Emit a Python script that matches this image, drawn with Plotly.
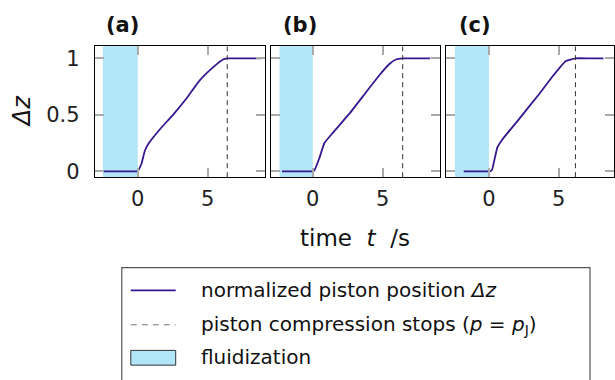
import plotly.graph_objects as go

# ---------------- data ----------------
panel_labels = ["(a)", "(b)", "(c)"]

t_a = [-2.45, -1.0, -0.1, 0.02, 0.26, 0.5, 0.74, 1.57, 2.52, 3.48, 4.43, 5.38, 6.1, 6.4, 7.5, 8.8]
z_a = [0.0, 0.0, 0.0, 0.005, 0.064, 0.18, 0.24, 0.37, 0.50, 0.645, 0.805, 0.92, 0.99, 1.0, 1.0, 1.0]

t_b = [-2.2, -1.0, 0.0, 0.12, 0.48, 0.83, 1.43, 2.62, 3.81, 4.76, 5.48, 5.95, 6.43, 7.5, 8.4]
z_b = [0.0, 0.0, 0.0, 0.01, 0.12, 0.25, 0.34, 0.51, 0.70, 0.85, 0.95, 0.99, 1.0, 1.0, 1.0]

t_c = [-1.8, -0.5, 0.1, 0.24, 0.6, 0.95, 2.14, 3.57, 4.52, 5.48, 6.19, 7.2, 8.2]
z_c = [0.0, 0.0, 0.0, 0.02, 0.21, 0.28, 0.46, 0.68, 0.835, 0.975, 1.0, 1.0, 1.0]

stop_times = [6.4, 6.43, 6.19]          # piston compression stops
fluid_start = [-2.5, -2.38, -2.43]       # fluidization interval start (ends at t=0)
fluid_end = [0.0, 0.0, 0.0]

x_ticks = [0, 5]
y_ticks = [0, 0.5, 1]
y_ticklabels = ["0", "0.5", "1"]

legend_labels = [
    "normalized piston position <i>Δz</i>",
    "piston compression stops (<i>p</i> = <i>p</i><sub>J</sub>)",
    "fluidization",
]

# ---------------- style ----------------
W, H = 615, 380
FONT = "DejaVu Sans"
CURVE = "#37178f"
FLUID = "#b3e5f8"
YR = [-0.052, 1.107]

def px(x):
    return x / W

def py(y):
    return 1 - y / H

domains = [(95, 265), (271, 441), (447, 615)]
xranges = [[-3.07, 9.07], [-3.02, 9.12], [-3.05, -3.05 + 168 / 14]]
series = [(t_a, z_a), (t_b, z_b), (t_c, z_c)]

fig = go.Figure()
shapes = []
annotations = []

for i, ((t, z), (d0, d1)) in enumerate(zip(series, domains)):
    xa = "x" if i == 0 else f"x{i+1}"
    ya = "y" if i == 0 else f"y{i+1}"
    fig.add_trace(go.Scatter(x=t, y=z, mode="lines", xaxis=xa, yaxis=ya,
                             line=dict(color=CURVE, width=1.8, shape="spline", smoothing=0.3),
                             showlegend=False, hoverinfo="skip"))
    fig.add_trace(go.Scatter(x=[stop_times[i], stop_times[i]], y=YR, mode="lines",
                             xaxis=xa, yaxis=ya,
                             line=dict(color="#333333", width=1, dash="5px,4px"),
                             showlegend=False, hoverinfo="skip"))
    shapes.append(dict(type="rect", xref=xa, yref=f"{ya} domain",
                       x0=fluid_start[i], x1=fluid_end[i], y0=0, y1=1,
                       fillcolor=FLUID, line=dict(width=0), layer="below"))
    axkey = "xaxis" if i == 0 else f"xaxis{i+1}"
    aykey = "yaxis" if i == 0 else f"yaxis{i+1}"
    fig.layout[axkey] = dict(domain=[px(d0), px(d1)], range=xranges[i], anchor=ya,
                             tickvals=x_ticks, ticks="inside", ticklen=9, tickwidth=1.5,
                             tickcolor="#aaaaaa", showline=True, linecolor="black",
                             linewidth=1, mirror="ticks", showgrid=False, zeroline=False,
                             tickfont=dict(family=FONT, size=21, color="#222222"),
                             ticklabelstandoff=3)
    fig.layout[aykey] = dict(domain=[py(180), py(47)], range=YR, anchor=xa,
                             tickvals=y_ticks, ticktext=y_ticklabels,
                             ticks="inside", ticklen=9, tickwidth=1.5,
                             tickcolor="#aaaaaa", showline=True, linecolor="black",
                             linewidth=1, mirror="ticks", showgrid=False, zeroline=False,
                             showticklabels=(i == 0),
                             tickfont=dict(family=FONT, size=21, color="#222222"),
                             ticklabelstandoff=10)

# panel labels
for lab, cx in zip(panel_labels, [123, 300, 476]):
    annotations.append(dict(text=f"<b>{lab}</b>", x=px(cx), y=py(25), xref="paper", yref="paper",
                            showarrow=False, xanchor="center", yanchor="middle",
                            font=dict(family=FONT, size=21, color="#111111")))

# axis titles
annotations.append(dict(text="<i>Δz</i>", x=px(22), y=py(113), xref="paper", yref="paper",
                        showarrow=False, textangle=-90, xanchor="center", yanchor="middle",
                        font=dict(family=FONT, size=24, color="#111111")))
annotations.append(dict(text="time  <i>t</i>  /s", x=px(356), y=py(242), xref="paper", yref="paper",
                        showarrow=False, xanchor="center", yanchor="middle",
                        font=dict(family=FONT, size=23, color="#111111")))

# legend box (manual)
shapes.append(dict(type="rect", xref="paper", yref="paper", x0=px(122), x1=px(591),
                   y0=py(400), y1=py(272), line=dict(color="#555555", width=1.2),
                   fillcolor="white", layer="above"))
rows = [295, 330, 363]
shapes.append(dict(type="line", xref="paper", yref="paper", x0=px(131), x1=px(176),
                   y0=py(rows[0]), y1=py(rows[0]), line=dict(color=CURVE, width=1.8)))
shapes.append(dict(type="line", xref="paper", yref="paper", x0=px(131), x1=px(176),
                   y0=py(rows[1]), y1=py(rows[1]), line=dict(color="#777777", width=1, dash="6px,5px")))
shapes.append(dict(type="rect", xref="paper", yref="paper", x0=px(131), x1=px(176),
                   y0=py(371), y1=py(356), fillcolor=FLUID, line=dict(color="#333333", width=1)))
for lab, ry in zip(legend_labels, rows):
    annotations.append(dict(text=lab, x=px(199), y=py(ry), xref="paper", yref="paper",
                            showarrow=False, xanchor="left", yanchor="middle",
                            font=dict(family=FONT, size=20, color="#111111")))

fig.update_layout(width=W, height=H, margin=dict(l=0, r=0, t=0, b=0),
                  paper_bgcolor="white", plot_bgcolor="white",
                  shapes=shapes, annotations=annotations, showlegend=False)

fig.write_html("out.html")
